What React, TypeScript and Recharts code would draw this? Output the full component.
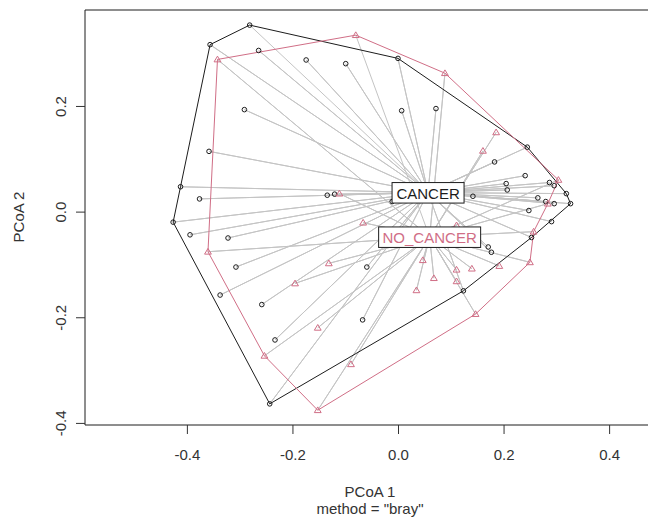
import React from "react";
import { ComposedChart, Scatter, XAxis, YAxis, ReferenceArea } from "recharts";

const X_TICKS = [-0.4, -0.2, 0, 0.2, 0.4];
const Y_TICKS = [-0.4, -0.2, 0, 0.2];
const X_DOMAIN = [-0.594, 0.486];
const Y_DOMAIN = [-0.403, 0.3826];

const GROUP_NAMES = ["CANCER", "NO_CANCER"];
const cancerCentroid = [0.056, 0.037];
const noCancerCentroid = [0.059, -0.047];

// PCoA 1, PCoA 2 scores
const cancerPoints = [
  [-0.282, 0.354], [-0.357, 0.317], [-0.265, 0.306], [-0.175, 0.288],
  [-0.1, 0.281], [-0.001, 0.291], [-0.292, 0.194], [0.006, 0.192],
  [0.071, 0.196], [-0.359, 0.115], [0.244, 0.123], [0.182, 0.095],
  [0.24, 0.069], [-0.413, 0.048], [-0.377, 0.025], [-0.135, 0.032],
  [-0.121, 0.034], [-0.012, 0.02], [0.204, 0.054], [0.206, 0.042],
  [0.141, 0.03], [0.286, 0.056], [0.295, 0.05], [0.318, 0.035],
  [0.326, 0.016], [0.264, 0.027], [0.279, 0.02], [0.295, 0.016],
  [0.247, 0.003], [0.29, -0.018], [-0.427, -0.019], [-0.395, -0.043],
  [-0.323, -0.049], [0.252, -0.048], [0.17, -0.066], [0.176, -0.076],
  [-0.308, -0.104], [-0.06, -0.104], [-0.338, -0.157], [-0.259, -0.175],
  [0.123, -0.149], [-0.068, -0.204], [-0.234, -0.242], [-0.244, -0.363],
];

const noCancerPoints = [
  [-0.081, 0.335], [-0.343, 0.289], [0.088, 0.263], [0.185, 0.151],
  [0.16, 0.116], [0.303, 0.061], [-0.112, 0.035], [0.283, 0.016],
  [-0.067, -0.02], [0.11, -0.025], [0.256, -0.037], [-0.361, -0.075],
  [-0.132, -0.097], [0.046, -0.091], [0.249, -0.095], [0.11, -0.109],
  [0.139, -0.107], [0.191, -0.102], [-0.196, -0.135], [0.067, -0.125],
  [0.11, -0.131], [0.034, -0.148], [0.146, -0.193], [-0.153, -0.219],
  [-0.254, -0.272], [-0.09, -0.288], [-0.153, -0.375],
];

const cancerHull = [43, 30, 13, 1, 0, 5, 10, 23, 24, 33, 40, 43];
const noCancerHull = [26, 24, 11, 1, 0, 2, 5, 7, 10, 14, 22, 26];

const BLACK = "#1c1c1c";
const PINK = "#D06E86";
const SEG = "#c4c4c4";
const FONT = "'Liberation Sans', Arial, sans-serif";

const toObj = (p: number[]) => ({ x: p[0], y: p[1] });

const cancerData = cancerPoints.map(toObj);
const noCancerData = noCancerPoints.map(toObj);
const cancerHullData = cancerHull.map((i) => toObj(cancerPoints[i]));
const noCancerHullData = noCancerHull.map((i) => toObj(noCancerPoints[i]));

// point -> centroid -> next point ... draws every spoke
const spokes = (pts: number[][], c: number[]) =>
  pts.flatMap((p, i) => (i === 0 ? [toObj(p)] : [toObj(c), toObj(p)]));

const cancerSpokes = [...spokes(cancerPoints, cancerCentroid), toObj(cancerCentroid)];
const noCancerSpokes = [...spokes(noCancerPoints, noCancerCentroid), toObj(noCancerCentroid)];

const centroidData = [
  { ...toObj(cancerCentroid), name: GROUP_NAMES[0] },
  { ...toObj(noCancerCentroid), name: GROUP_NAMES[1] },
];

const Empty = () => <g />;

const Circle = (p: any) => (
  <circle cx={p.cx} cy={p.cy} r={2.3} fill="none" stroke={BLACK} strokeWidth={1} />
);

const Triangle = (p: any) => (
  <polygon
    points={`${p.cx},${p.cy - 3.3} ${p.cx - 3.4},${p.cy + 2.4} ${p.cx + 3.4},${p.cy + 2.4}`}
    fill="none"
    stroke={PINK}
    strokeWidth={1}
  />
);

const CentroidLabel = (p: any) => {
  const name = p.payload.name;
  const w = name === "CANCER" ? 72 : 102;
  const color = name === "CANCER" ? BLACK : PINK;
  return (
    <g>
      <rect x={p.cx - w / 2} y={p.cy - 10} width={w} height={20.5} fill="#fff" stroke={BLACK} strokeWidth={1} />
      <text x={p.cx} y={p.cy + 1} textAnchor="middle" dominantBaseline="central" fontSize={15} fontFamily={FONT} fill={color}>
        {name}
      </text>
    </g>
  );
};

const XTick = ({ x, y, payload }: any) => (
  <g>
    <line x1={x} x2={x} y1={y} y2={y + 9} stroke="#333" strokeWidth={1} />
    <text x={x} y={y + 29} textAnchor="middle" dominantBaseline="central" fontSize={15} fontFamily={FONT} fill="#333">
      {payload.value.toFixed(1)}
    </text>
  </g>
);

const YTick = ({ x, y, payload }: any) => (
  <g>
    <line x1={x - 9} x2={x} y1={y} y2={y} stroke="#333" strokeWidth={1} />
    <text
      x={x - 24}
      y={y}
      transform={`rotate(-90 ${x - 24} ${y})`}
      textAnchor="middle"
      dominantBaseline="central"
      fontSize={15}
      fontFamily={FONT}
      fill="#333"
    >
      {payload.value.toFixed(1)}
    </text>
  </g>
);

const XTitle = () => (
  <g>
    <text x={370} y={491} textAnchor="middle" dominantBaseline="central" fontSize={15} fontFamily={FONT} fill="#333">
      PCoA 1
    </text>
    <text x={370} y={508} textAnchor="middle" dominantBaseline="central" fontSize={15} fontFamily={FONT} fill="#333">
      method = "bray"
    </text>
  </g>
);

const YTitle = () => (
  <text x={18} y={217} transform="rotate(-90 18 217)" textAnchor="middle" dominantBaseline="central" fontSize={15} fontFamily={FONT} fill="#333">
    PCoA 2
  </text>
);

export default function App() {
  return (
    <div style={{ position: "absolute", left: 0, top: 0, width: 648, height: 518, overflow: "hidden", background: "#fff" }}>
      <ComposedChart width={680} height={518} margin={{ top: 10, right: 25, bottom: 0, left: 0 }}>
        <XAxis
          type="number"
          dataKey="x"
          domain={X_DOMAIN}
          ticks={X_TICKS}
          allowDataOverflow
          axisLine={false}
          tickLine={false}
          tickSize={0}
          tickMargin={0}
          height={93}
          tick={<XTick />}
          label={XTitle}
        />
        <YAxis
          type="number"
          dataKey="y"
          domain={Y_DOMAIN}
          ticks={Y_TICKS}
          allowDataOverflow
          axisLine={false}
          tickLine={false}
          tickSize={0}
          tickMargin={0}
          width={85}
          tick={<YTick />}
          label={YTitle}
        />
        <ReferenceArea
          x1={X_DOMAIN[0]}
          x2={X_DOMAIN[1]}
          y1={Y_DOMAIN[0]}
          y2={Y_DOMAIN[1]}
          fill="none"
          fillOpacity={0}
          stroke={BLACK}
          strokeWidth={1}
          ifOverflow="visible"
        />
        <Scatter data={cancerSpokes} line={{ stroke: SEG, strokeWidth: 1 }} shape={Empty} isAnimationActive={false} />
        <Scatter data={noCancerSpokes} line={{ stroke: SEG, strokeWidth: 1 }} shape={Empty} isAnimationActive={false} />
        <Scatter data={cancerHullData} line={{ stroke: BLACK, strokeWidth: 1 }} shape={Empty} isAnimationActive={false} />
        <Scatter data={noCancerHullData} line={{ stroke: PINK, strokeWidth: 1 }} shape={Empty} isAnimationActive={false} />
        <Scatter data={cancerData} shape={Circle} isAnimationActive={false} />
        <Scatter data={noCancerData} shape={Triangle} isAnimationActive={false} />
        <Scatter data={centroidData} shape={CentroidLabel} isAnimationActive={false} />
      </ComposedChart>
    </div>
  );
}
